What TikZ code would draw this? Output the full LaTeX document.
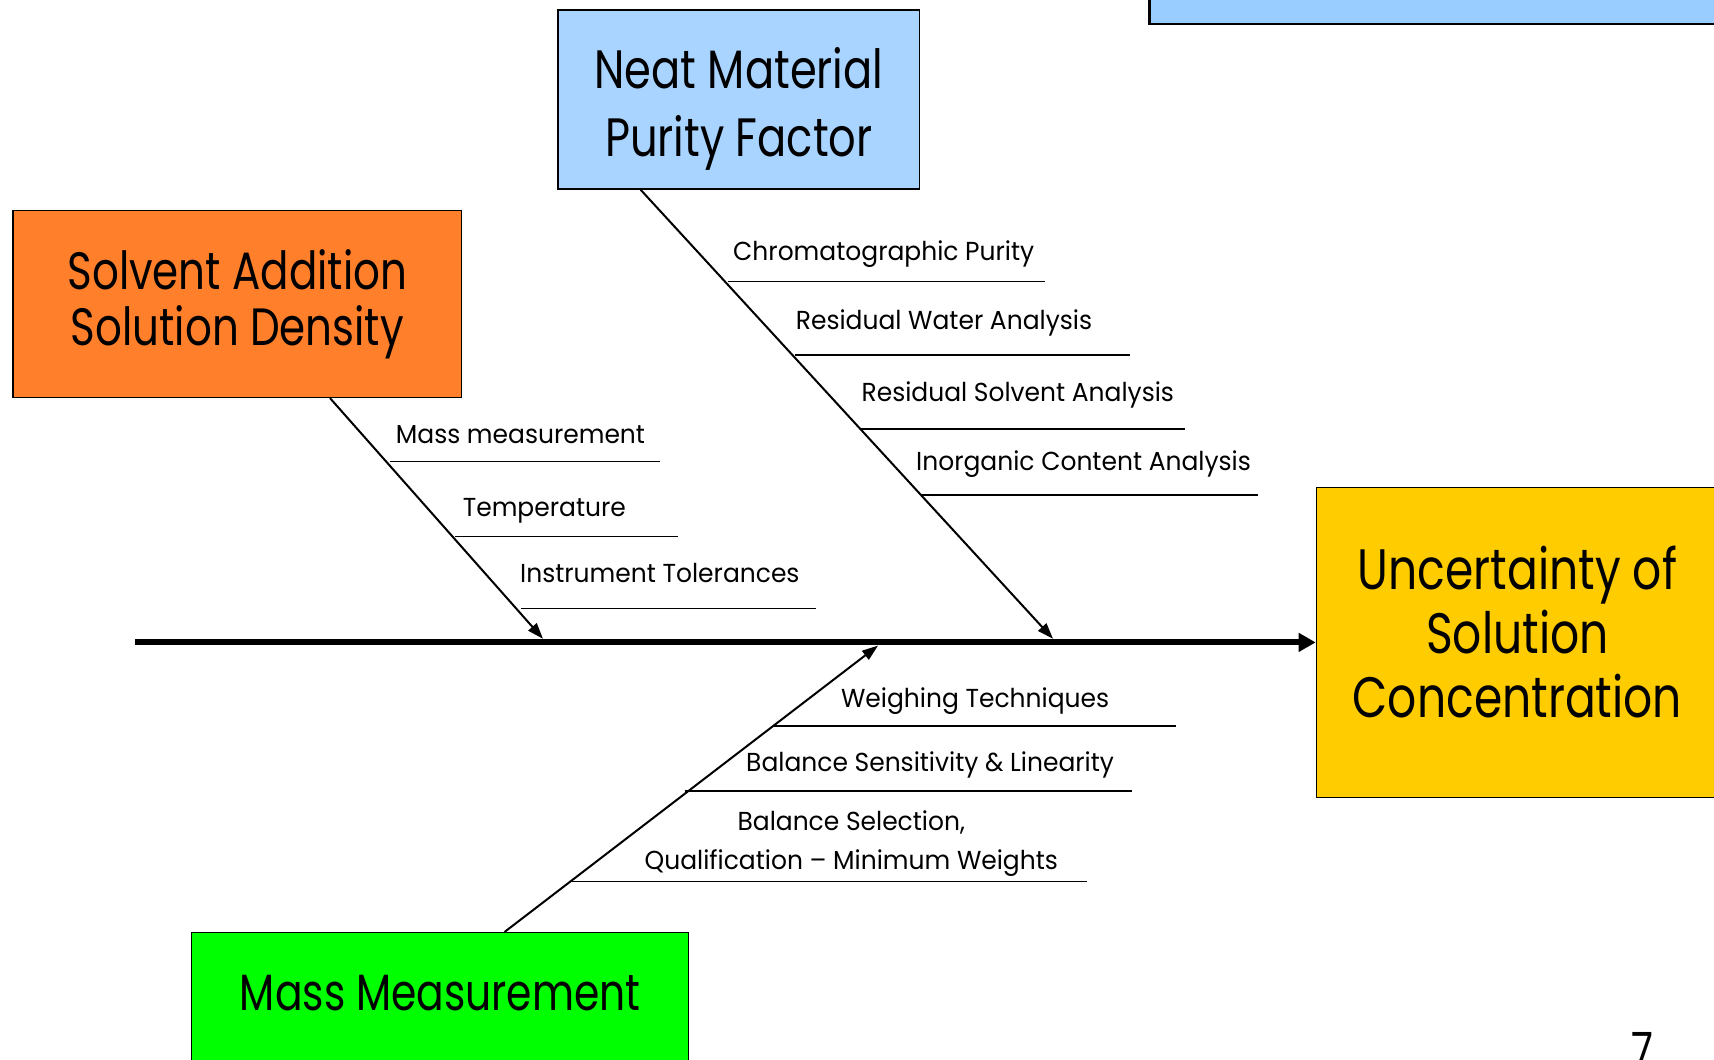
\documentclass[tikz,border=0pt]{standalone}
\usepackage{fontspec}
\setmainfont{Poppins}
\newfontfamily\boxfont[FakeStretch=0.8]{Poppins}
\newfontfamily\ribfont[FakeStretch=0.96]{Poppins}
\usetikzlibrary{arrows.meta,calc}

\definecolor{neatblue}{HTML}{A8D4FF}
\definecolor{headblue}{HTML}{99CCFF}
\definecolor{solvorange}{HTML}{FF7F2A}
\definecolor{effectyellow}{HTML}{FFCC00}
\definecolor{massgreen}{HTML}{00FF00}

% strut above first line and below last line of a box caption
\newcommand{\boxlines}[3]{\rule{0pt}{#1pt}#3\rule[-#2pt]{0pt}{0pt}}

\begin{document}
\begin{tikzpicture}[
        x=1pt, y=-1pt,
        causebox/.style={draw, line width=1.4pt, inner sep=0pt, align=center, anchor=north west},
        branch/.style={line width=2pt, -{Triangle[length=16pt,width=11pt]}},
        subline/.style={line width=1.5pt},
        sublabel/.style={inner sep=0pt, anchor=base west, font={\ribfont\fontsize{26}{38.6}\selectfont}},
    ]
    \useasboundingbox (0,0) rectangle (1714,1060);
    \clip (0,0) rectangle (1714,1060);

    % boxes
    \node [draw, line width=2.5pt, fill=headblue, minimum width=620pt, minimum height=120pt, anchor=south west] (topbox) at (1148.2,25) {};
    \node [causebox, fill=neatblue, minimum width=361.7pt, font={\boxfont\fontsize{54}{68.7}\selectfont}] (neat) at (557.3,9.3)
        {\boxlines{78}{32.3}{Neat Material\\Purity Factor}};
    \node [causebox, fill=solvorange, minimum width=448.7pt, font={\boxfont\fontsize{52.5}{56}\selectfont}] (solvent) at (12.3,210)
        {\boxlines{79}{51.7}{Solvent Addition\\Solution Density}};
    \node [causebox, fill=effectyellow, minimum width=402pt, font={\boxfont\fontsize{57}{64}\selectfont}] (effect) at (1315.7,486.7)
        {\boxlines{101.6}{80.4}{Uncertainty of\\Solution\\Concentration}};
    \node [causebox, fill=massgreen, minimum width=497pt, font={\boxfont\fontsize{51}{60}\selectfont}] (mass) at (191,932)
        {\boxlines{78}{51.5}{Mass Measurement}};

    % spine
    \coordinate (spinetail) at ($(effect.west)+(-1180.9,0)$);
    \draw [line width=6pt, -{Triangle[length=17pt,width=18pt]}] (spinetail) -- (effect.west);

    % bones
    \coordinate (neathead) at (1053,638.8);
    \coordinate (solvhead) at (543,638.8);
    \coordinate (masshead) at (878,645.6);
    \draw [branch] ($(neat.south west)+(83.3,0)$) -- (neathead);
    \draw [branch] ($(solvent.south west)+(317.7,0)$) -- (solvhead);
    \draw [branch] ($(mass.north west)+(313.5,0)$) -- (masshead);

    % neat material ribs
    \node [sublabel] (chrom) at (733,260.7) {Chromatographic Purity};
    \node [sublabel] (water) at (795.7,329) {Residual Water Analysis};
    \node [sublabel] (resolv) at (861.4,401.7) {Residual Solvent Analysis};
    \node [sublabel] (inorg) at (916,470.7) {Inorganic Content Analysis};
    \coordinate (chromA) at (727.9,281.7); \coordinate (chromB) at (1044.6,281.7);
    \coordinate (waterA) at (794.6,355); \coordinate (waterB) at (1130,355);
    \coordinate (resolvA) at (861,429); \coordinate (resolvB) at (1185,429);
    \coordinate (inorgA) at (921,495); \coordinate (inorgB) at (1258,495);
    \draw [subline] (chromA) -- (chromB);
    \draw [subline] (waterA) -- (waterB);
    \draw [subline] (resolvA) -- (resolvB);
    \draw [subline] (inorgA) -- (inorgB);

    % solvent ribs
    \node [sublabel] (massm) at (395.7,443.3) {Mass measurement};
    \node [sublabel] (temp) at (462.6,516) {Temperature};
    \node [sublabel] (instr) at (520,582.3) {Instrument Tolerances};
    \coordinate (massmA) at (390,461.7); \coordinate (massmB) at (659.7,461.7);
    \coordinate (tempA) at (455,536.7); \coordinate (tempB) at (678,536.7);
    \coordinate (instrA) at (521,608.3); \coordinate (instrB) at (815.9,608.3);
    \draw [subline] (massmA) -- (massmB);
    \draw [subline] (tempA) -- (tempB);
    \draw [subline] (instrA) -- (instrB);

    % mass ribs
    \node [sublabel] (weigh) at (840.9,707.3) {Weighing Techniques};
    \node [sublabel] (sens) at (746,771.7) {Balance Sensitivity \& Linearity};
    \node [sublabel, anchor=south, align=center] (select) at (851.3,876.5) {Balance Selection,\\Qualification – Minimum Weights};
    \coordinate (weighA) at (773.9,726); \coordinate (weighB) at (1176,726);
    \coordinate (sensA) at (684.7,791); \coordinate (sensB) at (1131.7,791);
    \coordinate (selectA) at (571,881.7); \coordinate (selectB) at (1086.5,881.7);
    \draw [subline] (weighA) -- (weighB);
    \draw [subline] (sensA) -- (sensB);
    \draw [subline] (selectA) -- (selectB);

    \node [inner sep=0pt, anchor=base west, font={\boxfont\fontsize{50}{60}\selectfont}] (pagenum) at (1631,1068) {7};
\end{tikzpicture}
\end{document}
